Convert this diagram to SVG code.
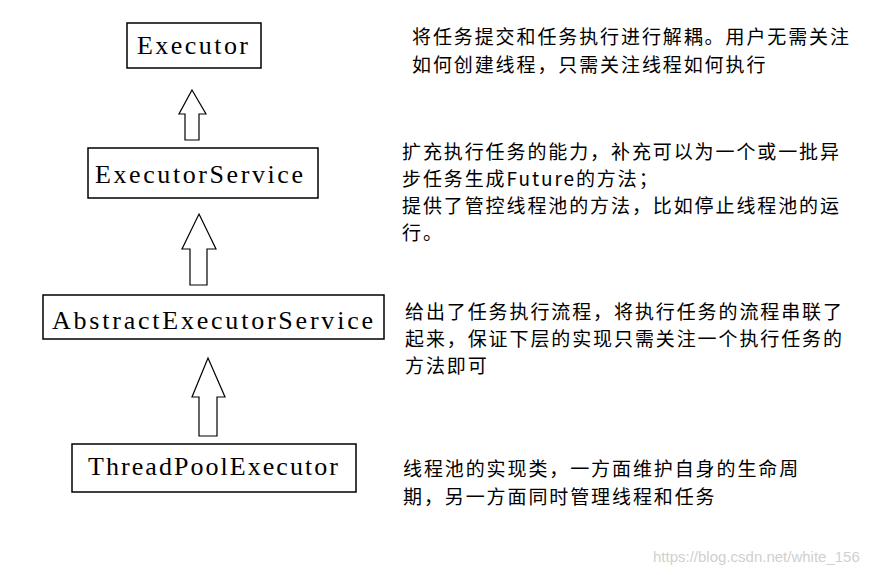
<svg xmlns="http://www.w3.org/2000/svg" width="883" height="575" viewBox="0 0 883 575">
<style>
.box{fill:#fff;stroke:#000;stroke-width:1.5}
.lbl{font-family:"Liberation Serif",serif;font-size:26px;fill:#000}
.arr{fill:#fff;stroke:#000;stroke-width:1.2;stroke-linejoin:miter}
.note{font-family:"Noto Sans CJK SC","Noto Sans",sans-serif;font-size:19px;letter-spacing:1.9px;fill:#000}
.wm{font-family:"Liberation Sans",sans-serif;font-size:15px;fill:#d0d0d0}
</style>
<rect width="883" height="575" fill="#fff"/>
<g id="connectors">
<polygon class="arr" points="192,90 206,114 199,114 199,140 185,140 185,114 179,114"/>
<polygon class="arr" points="199,214 216,249 207,249 207,285 190,285 190,249 182,249"/>
<polygon class="arr" points="208,358 225,397 217,397 217,436 199,436 199,397 192,397"/>
</g>
<g id="executor">
<rect class="box" x="127" y="23" width="134" height="45"/>
<text class="lbl" x="137" y="54" textLength="111" lengthAdjust="spacing">Executor</text>
</g>
<g id="executorService">
<rect class="box" x="88" y="148" width="230" height="50"/>
<text class="lbl" x="95" y="183" textLength="208" lengthAdjust="spacing">ExecutorService</text>
</g>
<g id="abstractExecutorService">
<rect class="box" x="43" y="295" width="341" height="44"/>
<text class="lbl" x="52" y="329" textLength="321" lengthAdjust="spacing">AbstractExecutorService</text>
</g>
<g id="threadPoolExecutor">
<rect class="box" x="72" y="444" width="284" height="48"/>
<text class="lbl" x="88" y="475" textLength="250" lengthAdjust="spacing">ThreadPoolExecutor</text>
</g>
<g id="notes">
<text class="note" x="412" y="44">将任务提交和任务执行进行解耦。用户无需关注</text>
<text class="note" x="412" y="72">如何创建线程，只需关注线程如何执行</text>
<text class="note" x="402" y="159">扩充执行任务的能力，补充可以为一个或一批异</text>
<text class="note" x="402" y="186">步任务生成Future的方法；</text>
<text class="note" x="402" y="213">提供了管控线程池的方法，比如停止线程池的运</text>
<text class="note" x="402" y="240">行。</text>
<text class="note" x="405" y="319">给出了任务执行流程，将执行任务的流程串联了</text>
<text class="note" x="405" y="346">起来，保证下层的实现只需关注一个执行任务的</text>
<text class="note" x="405" y="373">方法即可</text>
<text class="note" x="403" y="476">线程池的实现类，一方面维护自身的生命周</text>
<text class="note" x="403" y="504">期，另一方面同时管理线程和任务</text>
</g>
<text class="wm" x="653" y="562">https://blog.csdn.net/white_156</text>
</svg>
